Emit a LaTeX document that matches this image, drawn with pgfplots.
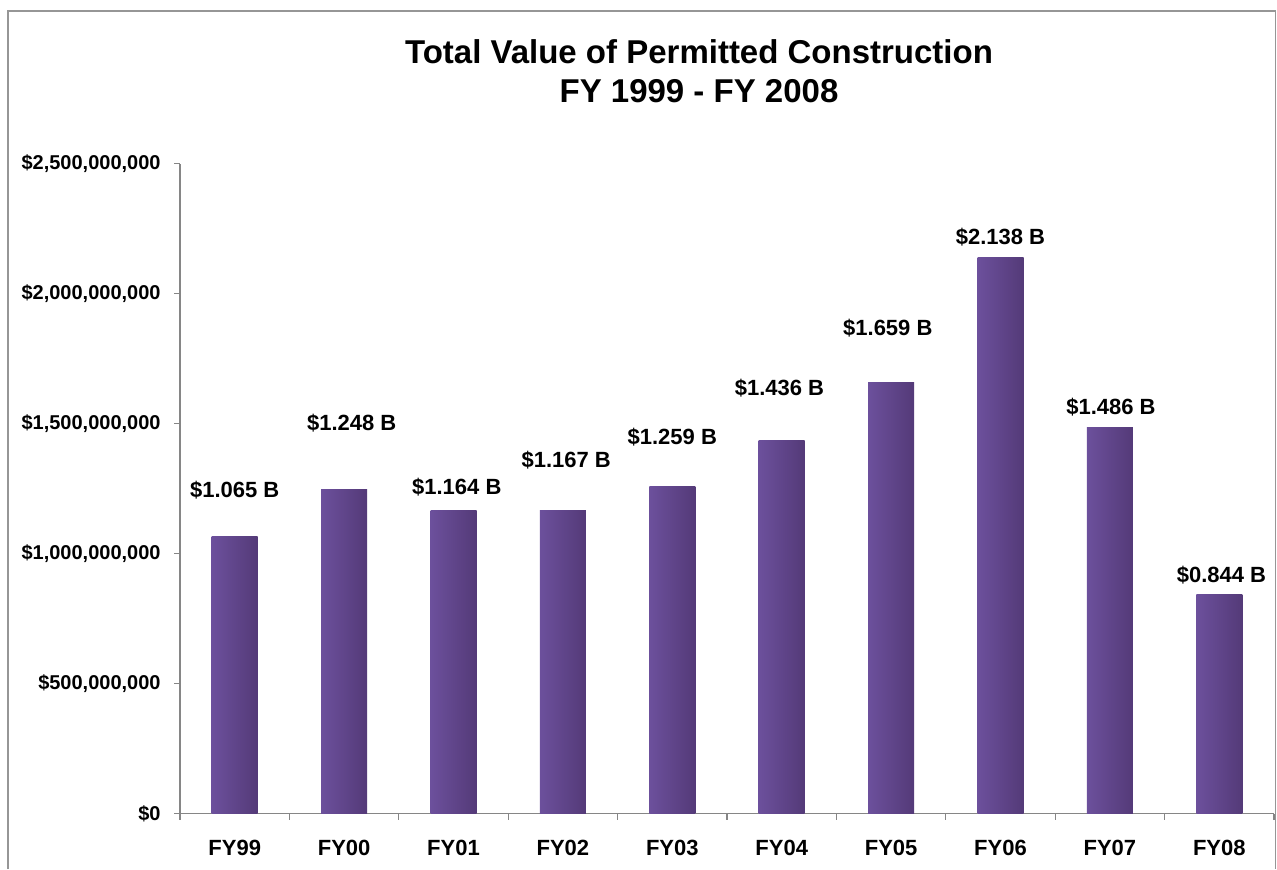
\documentclass[border=0pt]{standalone}
\usepackage{pgfplots}
\pgfplotsset{compat=1.18}
\usepackage{fontspec}
\setmainfont{Liberation Sans}
\definecolor{axgray}{RGB}{134,134,134}
\definecolor{framegray}{RGB}{150,150,150}
\definecolor{barL}{RGB}{108,80,156}
\definecolor{barM}{RGB}{134,102,182}
\definecolor{barR}{RGB}{84,58,120}
\begin{document}
\begin{tikzpicture}
% page bounds (1277 x 869 px at 0.5pt/px)
\useasboundingbox (0,0) rectangle (638.5pt,-434.5pt);
% outer frame (no bottom edge visible)
\draw[framegray, line width=0.6pt] (4pt,-434.5pt) -- (4pt,-5.5pt) -- (637.8pt,-5.5pt) -- (637.8pt,-434.5pt);
% title
\node[anchor=base, font=\bfseries\fontsize{16.5}{19}\selectfont] at (349.5pt,-31.5pt) {Total Value of Permitted Construction};
\node[anchor=base, font=\bfseries\fontsize{16.5}{19}\selectfont] at (349.5pt,-51pt) {FY 1999 - FY 2008};
\begin{axis}[
  at={(90pt,-406.75pt)}, anchor=south west,
  scale only axis, width=547pt, height=325pt,
  xmin=-0.5, xmax=9.5, ymin=0, ymax=2.5,
  axis x line*=bottom, axis y line*=left,
  axis line style={axgray, line width=0.6pt},
  tick style={axgray, line width=0.6pt},
  tick align=outside,
  xtick={0,...,9},
  xticklabels={FY99,FY00,FY01,FY02,FY03,FY04,FY05,FY06,FY07,FY08},
  major x tick style={draw=none},
  minor xtick={-0.5,0.5,...,9.5},
  minor tick length=3pt,
  ytick={0,0.5,1,1.5,2,2.5},
  yticklabels={\$0,{\$500,000,000},{\$1,000,000,000},{\$1,500,000,000},{\$2,000,000,000},{\$2,500,000,000}},
  major tick length=3pt,
  xticklabel style={font=\bfseries\fontsize{11}{13}\selectfont, anchor=base, yshift=-18pt},
  yticklabel style={font=\bfseries\fontsize{10}{12}\selectfont, anchor=east, inner sep=0pt, xshift=-6.5pt},
  clip=false,
  pbar/.style={ybar, bar width=23pt, bar shift=0pt, draw=none, left color=barL, middle color=barM, right color=barR, forget plot},
]
\addplot[pbar] coordinates {(0,1.065)};
\addplot[pbar] coordinates {(1,1.248)};
\addplot[pbar] coordinates {(2,1.164)};
\addplot[pbar] coordinates {(3,1.167)};
\addplot[pbar] coordinates {(4,1.259)};
\addplot[pbar] coordinates {(5,1.436)};
\addplot[pbar] coordinates {(6,1.659)};
\addplot[pbar] coordinates {(7,2.138)};
\addplot[pbar] coordinates {(8,1.486)};
\addplot[pbar] coordinates {(9,0.844)};
\tikzset{lbl/.style={font=\bfseries\fontsize{11}{13}\selectfont, anchor=center}}
\node[lbl] at (axis cs:0.00,1.244) {\$1.065 B};
\node[lbl] at (axis cs:1.07,1.502) {\$1.248 B};
\node[lbl] at (axis cs:2.03,1.256) {\$1.164 B};
\node[lbl] at (axis cs:3.03,1.358) {\$1.167 B};
\node[lbl] at (axis cs:4.00,1.448) {\$1.259 B};
\node[lbl] at (axis cs:4.98,1.637) {\$1.436 B};
\node[lbl] at (axis cs:5.97,1.867) {\$1.659 B};
\node[lbl] at (axis cs:7.00,2.217) {\$2.138 B};
\node[lbl] at (axis cs:8.01,1.563) {\$1.486 B};
\node[lbl] at (axis cs:9.02,0.917) {\$0.844 B};
\end{axis}
\end{tikzpicture}
\end{document}
